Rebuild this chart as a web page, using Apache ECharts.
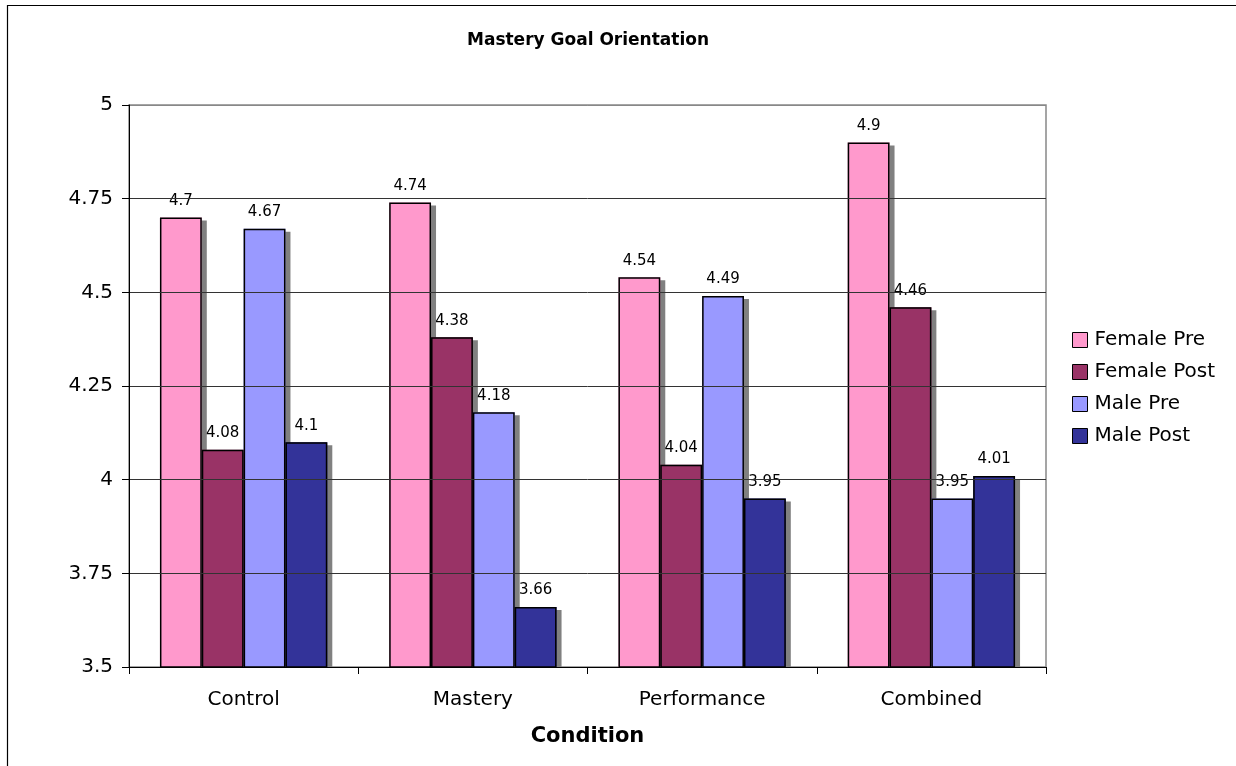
<!DOCTYPE html>
<html>
<head>
<meta charset="utf-8">
<script src="https://cdn.jsdelivr.net/npm/echarts@6/dist/echarts.min.js"></script>
<style>
  html, body { margin: 0; padding: 0; background: #ffffff; }
  #chart { width: 1236px; height: 766px; }
</style>
</head>
<body>
<div id="chart"></div>
<script>
// Mean mastery goal orientation by condition, gender and time
const categories = ['Control', 'Mastery', 'Performance', 'Combined'];
const seriesNames = ['Female Pre', 'Female Post', 'Male Pre', 'Male Post'];
const femalePre = [4.7, 4.74, 4.54, 4.9];
const femalePost = [4.08, 4.38, 4.04, 4.46];
const malePre = [4.67, 4.18, 4.49, 3.95];
const malePost = [4.1, 3.66, 3.95, 4.01];
const yTicks = { min: 3.5, max: 5, step: 0.25 };

const seriesValues = [femalePre, femalePost, malePre, malePost];
const seriesColors = ['#FF99CC', '#993366', '#9999FF', '#333399'];

const FONT = 'DejaVu Sans, Verdana, sans-serif';
const GRID = { left: 129, right: 190, top: 105, bottom: 99 };

const chart = echarts.init(document.getElementById('chart'), null, { renderer: 'canvas' });

// Filled bars with a hard grey drop shadow (no outline, so the outline casts no shadow)
const fillSeries = seriesNames.map((name, i) => ({
  name: name,
  type: 'bar',
  xAxisIndex: 0,
  data: seriesValues[i],
  barGap: '0%',
  barCategoryGap: '27%',
  itemStyle: {
    color: seriesColors[i],
    borderWidth: 0,
    shadowColor: '#808080',
    shadowBlur: 0,
    shadowOffsetX: 5,
    shadowOffsetY: 3
  },
  emphasis: { disabled: true },
  z: 2
}));

// Black outlines and value labels drawn on top, laid out on an identical hidden axis
const outlineSeries = seriesNames.map((name, i) => ({
  name: name,
  type: 'bar',
  xAxisIndex: 1,
  data: seriesValues[i],
  barGap: '0%',
  barCategoryGap: '27%',
  itemStyle: {
    color: 'transparent',
    borderColor: '#000000',
    borderWidth: 1.5
  },
  label: {
    show: true,
    position: 'top',
    distance: 9,
    color: '#000000',
    fontFamily: FONT,
    fontSize: 15
  },
  emphasis: { disabled: true },
  z: 3
}));

// split line colours: dark inner gridlines, grey frame line at the top
const splitColors = [];
for (let v = yTicks.min; v <= yTicks.max + 1e-9; v += yTicks.step) {
  splitColors.push(Math.abs(v - yTicks.max) < 1e-9 ? '#888888' : '#333333');
}

const option = {
  animation: false,
  backgroundColor: '#ffffff',
  title: {
    text: 'Mastery Goal Orientation',
    left: 588,
    top: 32,
    padding: 0,
    textAlign: 'center',
    textStyle: { fontFamily: FONT, fontSize: 17, fontWeight: 'bold', color: '#000000' }
  },
  legend: {
    orient: 'vertical',
    left: 1067,
    top: 325,
    itemWidth: 15,
    itemHeight: 15,
    itemGap: 12,
    icon: 'rect',
    selectedMode: false,
    itemStyle: { borderColor: '#000000', borderWidth: 1, shadowColor: 'transparent', shadowBlur: 0, shadowOffsetX: 0, shadowOffsetY: 0 },
    textStyle: { fontFamily: FONT, fontSize: 20, color: '#000000', lineHeight: 20, padding: [0, 0, 0, 2] },
    data: seriesNames
  },
  grid: {
    left: GRID.left,
    right: GRID.right,
    top: GRID.top,
    bottom: GRID.bottom,
    show: true,
    borderColor: '#888888',
    borderWidth: 1.5,
    backgroundColor: 'transparent'
  },
  xAxis: [
    {
      type: 'category',
      data: categories,
      z: 10,
      name: 'Condition',
      nameLocation: 'middle',
      nameGap: 59,
      nameTextStyle: { fontFamily: FONT, fontSize: 21, fontWeight: 'bold', color: '#000000' },
      axisLine: { show: true, lineStyle: { color: '#000000', width: 1 } },
      axisTick: { show: true, length: 7, alignWithLabel: false, lineStyle: { color: '#000000' } },
      axisLabel: { margin: 23, fontFamily: FONT, fontSize: 20, color: '#000000' },
      splitLine: { show: false }
    },
    {
      type: 'category',
      data: categories,
      position: 'bottom',
      show: false
    }
  ],
  yAxis: {
    type: 'value',
    min: yTicks.min,
    max: yTicks.max,
    interval: yTicks.step,
    z: 10,
    axisLine: { show: true, lineStyle: { color: '#000000', width: 1 } },
    axisTick: { show: true, length: 7, lineStyle: { color: '#000000' } },
    axisLabel: { margin: 16, fontFamily: FONT, fontSize: 20, color: '#000000' },
    splitLine: { show: true, lineStyle: { color: splitColors, width: 1 } }
  },
  graphic: [
    // outer chart frame (top and left edges)
    {
      type: 'polyline',
      z: 20,
      silent: true,
      shape: { points: [[7.5, 766], [7.5, 5.5], [1236, 5.5]] },
      style: { stroke: '#000000', lineWidth: 1.2, fill: null }
    },
    // keeps bar shadows from spilling below the category axis
    {
      type: 'rect',
      z: 5,
      silent: true,
      shape: { x: GRID.left + 1, y: 766 - GRID.bottom + 0.5, width: 1236 - GRID.left - GRID.right + 4, height: 6 },
      style: { fill: '#ffffff' }
    }
  ],
  series: fillSeries.concat(outlineSeries)
};

chart.setOption(option);
</script>
</body>
</html>
